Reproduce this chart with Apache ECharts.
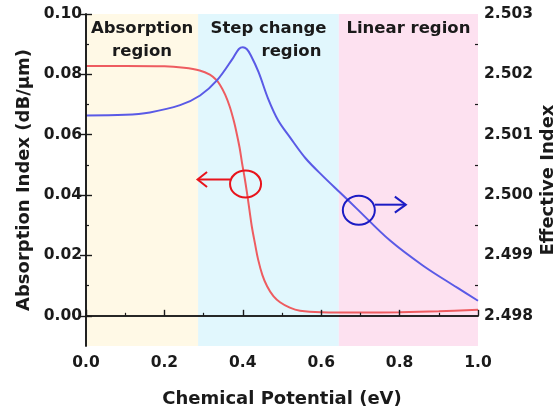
<!DOCTYPE html>
<html>
<head>
<meta charset="utf-8">
<script src="https://cdn.jsdelivr.net/npm/echarts@6/dist/echarts.min.js"></script>
<style>
  html, body { margin: 0; padding: 0; background: #fff; }
  #main { width: 557px; height: 412px; }
</style>
</head>
<body>
<div id="main"></div>
<script>
// absorption index (left axis)
var absX = [0, 0.10, 0.20, 0.25, 0.29, 0.316, 0.332, 0.342, 0.355, 0.367, 0.377, 0.385, 0.392, 0.398,
  0.405, 0.411, 0.417, 0.423, 0.431, 0.439, 0.45, 0.462, 0.478, 0.495, 0.52, 0.546, 0.6, 0.7, 0.8, 0.9, 1.0]
var absY = [0.0828, 0.0828, 0.0827, 0.0822, 0.0813, 0.0799, 0.0782, 0.0765, 0.0733, 0.0692, 0.0646, 0.0601, 0.0556, 0.0507,
  0.0455, 0.0405, 0.035, 0.0296, 0.024, 0.0187, 0.0135, 0.0098, 0.0065, 0.0045, 0.0027, 0.0017, 0.0012, 0.0011, 0.0012, 0.0015, 0.002]

// effective index (right axis), blue curve
var effX = [0, 0.10, 0.163, 0.24, 0.291, 0.334, 0.375, 0.39, 0.40, 0.41, 0.42, 0.44, 0.465, 0.49, 0.52,
  0.56, 0.605, 0.65, 0.69, 0.775, 0.86, 0.946, 1.0]
var effY = [2.50132, 2.50133, 2.50137, 2.50149, 2.50165, 2.5019, 2.50227, 2.50242, 2.50245, 2.50242, 2.50232, 2.50204, 2.50159, 2.50124, 2.50096,
  2.50061, 2.50031, 2.50003, 2.49978, 2.49925, 2.49883, 2.49847, 2.49825]

// shaded regions
var regionStart = [0, 0.286, 0.645]
var regionEnd = [0.286, 0.645, 1.0]
var regionNames = ['Absorption\nregion', 'Step change\n        region', 'Linear region']
var regionColors = ['#fff9e6', '#e1f7fd', '#fde1f0']

// tick values
var leftTicks = [0, 0.02, 0.04, 0.06, 0.08, 0.10]
var leftMinor = [0.01, 0.03, 0.05, 0.07, 0.09]
var rightTicks = [2.498, 2.499, 2.500, 2.501, 2.502, 2.503]
var rightMinor = [2.4985, 2.4995, 2.5005, 2.5015, 2.5025]

// annotation anchors (circle centres in data space)
var redMark = [0.407, 0.0437]
var blueMark = [0.696, 2.49975]

var FONT = '"DejaVu Sans", sans-serif'
var INK = '#1a1a1a'

var chart = echarts.init(document.getElementById('main'))

var labelStyle = { color: INK, fontFamily: FONT, fontWeight: 'bold', fontSize: 15.5 }
var nameStyle = { color: INK, fontFamily: FONT, fontWeight: 'bold', fontSize: 18 }

function zip(xs, ys) {
  return xs.map(function (x, i) { return [x, ys[i]] })
}

var areas = regionStart.map(function (s, i) {
  return [{ xAxis: s, name: regionNames[i], itemStyle: { color: regionColors[i] } }, { xAxis: regionEnd[i] }]
})

var option = {
  animation: false,
  grid: { left: 86, right: 79, top: 14, bottom: 66, containLabel: false, outerBoundsMode: 'none' },
  xAxis: [{
    type: 'value',
    min: 0,
    max: 1,
    interval: 0.2,
    z: 5,
    name: 'Chemical Potential (eV)',
    nameLocation: 'middle',
    nameGap: 44,
    nameMoveOverlap: false,
    nameTextStyle: nameStyle,
    axisLine: { lineStyle: { color: INK, width: 1.6 } },
    axisTick: { inside: true, length: 6, lineStyle: { color: INK, width: 1.4 } },
    minorTick: { show: true, splitNumber: 2, length: 3, lineStyle: { color: INK, width: 1.2 } },
    axisLabel: Object.assign({ margin: 9, formatter: function (v) { return v.toFixed(1) } }, labelStyle),
    splitLine: { show: false }
  }, {
    // top frame line
    type: 'value',
    position: 'top',
    min: 0,
    max: 1,
    z: 5,
    axisLine: { show: true, lineStyle: { color: INK, width: 1.6 } },
    axisTick: { show: false },
    axisLabel: { show: false },
    splitLine: { show: false }
  }],
  yAxis: [{
    type: 'value',
    position: 'left',
    min: -0.01,
    max: 0.10,
    z: 5,
    name: 'Absorption Index (dB/\u03bcm)',
    nameLocation: 'middle',
    nameRotate: 90,
    nameGap: 53,
    nameMoveOverlap: false,
    nameTextStyle: nameStyle,
    axisLine: { show: true, lineStyle: { color: INK, width: 1.6 } },
    axisTick: { inside: true, length: 6, customValues: leftTicks, lineStyle: { color: INK, width: 1.4 } },
    axisLabel: Object.assign({ margin: 4, customValues: leftTicks, formatter: function (v) { return v.toFixed(2) } }, labelStyle),
    splitLine: { show: false }
  }, {
    type: 'value',
    position: 'right',
    min: 2.4975,
    max: 2.503,
    z: 5,
    name: 'Effective Index',
    nameLocation: 'middle',
    nameRotate: 90,
    nameGap: 61,
    nameMoveOverlap: false,
    nameTextStyle: nameStyle,
    axisLine: { show: true, lineStyle: { color: INK, width: 1.6 } },
    axisTick: { inside: true, length: 6, customValues: rightTicks, lineStyle: { color: INK, width: 1.4 } },
    axisLabel: Object.assign({ margin: 6, customValues: rightTicks, formatter: function (v) { return v.toFixed(3) } }, labelStyle),
    splitLine: { show: false }
  }, {
    // minor ticks, left
    type: 'value',
    position: 'left',
    min: -0.01,
    max: 0.10,
    z: 5,
    axisLine: { show: false },
    axisTick: { inside: true, length: 3, customValues: leftMinor, lineStyle: { color: INK, width: 1.2 } },
    axisLabel: { show: false },
    splitLine: { show: false }
  }, {
    // minor ticks, right
    type: 'value',
    position: 'right',
    min: 2.4975,
    max: 2.503,
    z: 5,
    axisLine: { show: false },
    axisTick: { inside: true, length: 3, customValues: rightMinor, lineStyle: { color: INK, width: 1.2 } },
    axisLabel: { show: false },
    splitLine: { show: false }
  }],
  series: [{
    name: 'Absorption',
    type: 'line',
    xAxisIndex: 0,
    yAxisIndex: 0,
    data: zip(absX, absY),
    symbol: 'none',
    smooth: 0.35,
    lineStyle: { color: '#ee5c60', width: 2 },
    z: 3,
    markArea: {
      silent: true,
      z: 1,
      label: {
        show: true,
        position: 'insideTop',
        distance: 3,
        color: INK,
        fontFamily: FONT,
        fontWeight: 'bold',
        fontSize: 16.5,
        lineHeight: 23
      },
      data: areas
    }
  }, {
    name: 'Effective',
    type: 'line',
    xAxisIndex: 0,
    yAxisIndex: 1,
    data: zip(effX, effY),
    symbol: 'none',
    smooth: 0.35,
    lineStyle: { color: '#5a5ae6', width: 2 },
    z: 4
  }]
}

chart.setOption(option)

// circles and arrows pointing to each curve's axis
var rc = chart.convertToPixel({ xAxisIndex: 0, yAxisIndex: 0 }, redMark)
var bc = chart.convertToPixel({ xAxisIndex: 0, yAxisIndex: 1 }, blueMark)
var red = '#e8141c'
var blue = '#1c1cc4'
chart.setOption({
  graphic: [
    { type: 'ellipse', shape: { cx: rc[0], cy: rc[1], rx: 15.5, ry: 13.5 }, style: { fill: 'none', stroke: red, lineWidth: 2 }, z: 20 },
    { type: 'line', shape: { x1: rc[0] - 15.5, y1: rc[1] - 4.5, x2: rc[0] - 47.5, y2: rc[1] - 4.5 }, style: { stroke: red, lineWidth: 2 }, z: 20 },
    { type: 'polyline', shape: { points: [[rc[0] - 38.5, rc[1] - 12], [rc[0] - 48, rc[1] - 4.5], [rc[0] - 38.5, rc[1] + 3]] }, style: { fill: 'none', stroke: red, lineWidth: 2 }, z: 20 },
    { type: 'ellipse', shape: { cx: bc[0], cy: bc[1], rx: 16, ry: 14.5 }, style: { fill: 'none', stroke: blue, lineWidth: 2 }, z: 20 },
    { type: 'line', shape: { x1: bc[0] + 16, y1: bc[1] - 5.5, x2: bc[0] + 46.5, y2: bc[1] - 5.5 }, style: { stroke: blue, lineWidth: 2 }, z: 20 },
    { type: 'polyline', shape: { points: [[bc[0] + 36, bc[1] - 13.5], [bc[0] + 47, bc[1] - 5.5], [bc[0] + 36, bc[1] + 2.5]] }, style: { fill: 'none', stroke: blue, lineWidth: 2 }, z: 20 }
  ]
})
</script>
</body>
</html>
